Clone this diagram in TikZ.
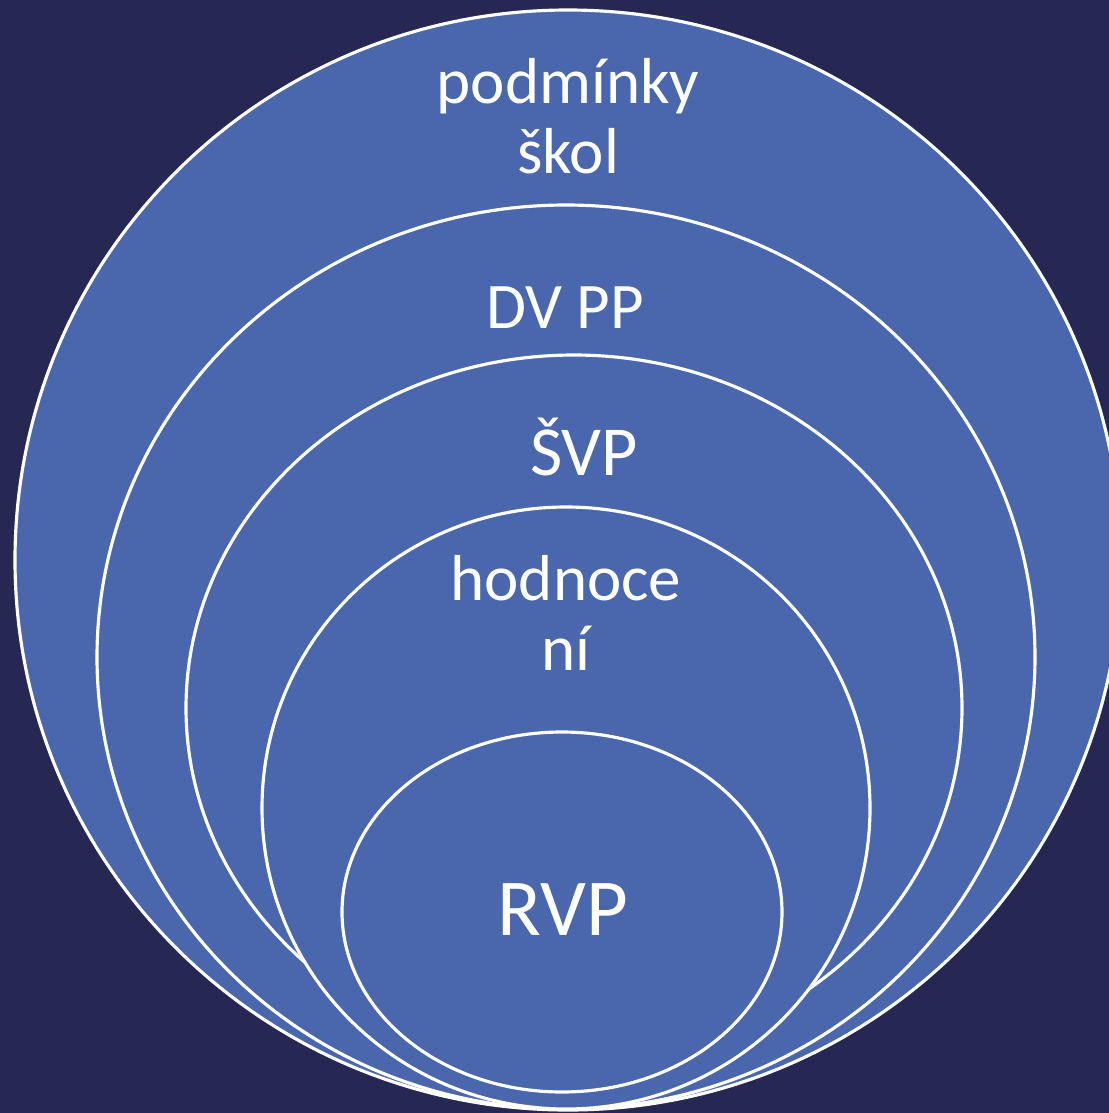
\documentclass[tikz,border=0pt]{standalone}
\usepackage{fontspec}
\setmainfont{Carlito}
\definecolor{bgnavy}{HTML}{262752}
\definecolor{ringblue}{HTML}{4A67AD}
\tikzset{
	ring/.style={fill=ringblue, draw=white, line width=1.8pt},
	lbl/.style={text=white, anchor=base, align=center, inner sep=0pt}
}
\begin{document}
\begin{tikzpicture}[x=0.02cm, y=-0.02cm]
		% Background
		\fill[bgnavy] (0, 0) rectangle (1109, 1113);
		\useasboundingbox (0, 0) rectangle (1109, 1113);

		% Nested rings, outermost first
		\filldraw[ring] (568, 560) ellipse [x radius=553, y radius=550];
		\filldraw[ring] (566, 657) ellipse [x radius=469, y radius=452];
		\filldraw[ring] (574, 708) ellipse [x radius=388, y radius=353];
		\filldraw[ring] (566, 808) ellipse [x radius=304, y radius=301];
		\filldraw[ring] (562, 912) ellipse [x radius=220, y radius=180];

		% Labels (base of a two-line node is its last line)
		\node[lbl, font=\fontsize{37}{39.7}\selectfont] (skoly) at (568, 173) {podmínky\\škol};
		\node[lbl, font=\fontsize{37}{42}\selectfont] (dvpp) at (565, 328) {DV PP};
		\node[lbl, font=\fontsize{40}{46}\selectfont] (svp) at (584, 475) {ŠVP};
		\node[lbl, font=\fontsize{37}{39.7}\selectfont] (hodn) at (566, 670) {hodnoce\\ní};
		\node[lbl, font=\fontsize{46}{52}\selectfont] (rvp) at (563, 935) {RVP};
	\end{tikzpicture}
\end{document}
